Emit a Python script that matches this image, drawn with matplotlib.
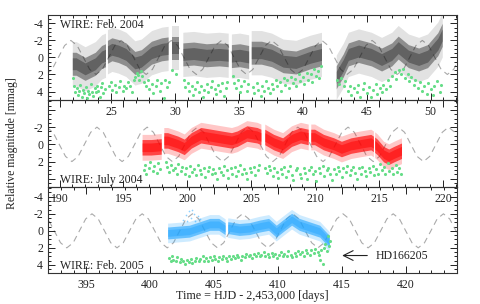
import numpy as np
import matplotlib
matplotlib.use('Agg')
import matplotlib.pyplot as plt
from matplotlib.ticker import MultipleLocator

plt.rcParams['font.family'] = ['Liberation Serif', 'DejaVu Serif']
plt.rcParams['axes.unicode_minus'] = False

nan = np.nan

# ---- dashed reference wave, read at 1/8-period steps ----
wave_cycle = [2, 1.4, 0, -1.4, -2, -1.4, 0, 1.4]
wave1_x = [19.89, 20.38, 20.87, 21.36, 21.85, 22.34, 22.83, 23.32, 23.82, 24.31, 24.80, 25.29,
           25.78, 26.27, 26.76, 27.25, 27.74, 28.23, 28.72, 29.21, 29.71, 30.20, 30.69, 31.18,
           31.67, 32.16, 32.65, 33.14, 33.64, 34.13, 34.62, 35.11, 35.60, 36.09, 36.58, 37.07,
           37.56, 38.05, 38.55, 39.04, 39.53, 40.02, 40.51, 41.00, 41.49, 41.98, 42.47, 42.96,
           43.45, 43.95, 44.44, 44.93, 45.42, 45.91, 46.40, 46.89, 47.38, 47.87, 48.36, 48.85,
           49.35, 49.84, 50.33, 50.82, 51.31, 51.80, 52.29]
wave1_y = wave_cycle * 8 + [2, 1.4, 0]
wave2_x = [189.00, 189.49, 189.98, 190.47, 190.97, 191.46, 191.95, 192.44, 192.93, 193.42, 193.91,
           194.40, 194.90, 195.39, 195.88, 196.37, 196.86, 197.35, 197.84, 198.33, 198.83, 199.32,
           199.81, 200.30, 200.79, 201.28, 201.77, 202.26, 202.76, 203.25, 203.74, 204.23, 204.72,
           205.21, 205.70, 206.19, 206.69, 207.18, 207.67, 208.16, 208.65, 209.14, 209.63, 210.12,
           210.62, 211.11, 211.60, 212.09, 212.58, 213.07, 213.56, 214.05, 214.55, 215.04, 215.53,
           216.02, 216.51, 217.00, 217.49, 217.98, 218.48, 218.97, 219.46, 219.95, 220.44, 220.93,
           221.42]
wave2_y = (wave_cycle[4:] + wave_cycle[:4]) * 8 + [-2, -1.4, 0]
wave3_x = [391.51, 392.00, 392.49, 392.98, 393.47, 393.97, 394.46, 394.95, 395.44, 395.93, 396.42,
           396.91, 397.40, 397.89, 398.38, 398.88, 399.37, 399.86, 400.35, 400.84, 401.33, 401.82,
           402.31, 402.80, 403.30, 403.79, 404.28, 404.77, 405.26, 405.75, 406.24, 406.73, 407.22,
           407.71, 408.21, 408.70, 409.19, 409.68, 410.17, 410.66, 411.15, 411.64, 412.13, 412.63,
           413.12, 413.61, 414.10, 414.59, 415.08, 415.57, 416.06, 416.55, 417.05, 417.54, 418.03,
           418.52, 419.01, 419.50, 419.99, 420.48, 420.97, 421.46, 421.96, 422.45, 422.94, 423.43,
           423.92, 424.41]
wave3_y = (wave_cycle[4:] + wave_cycle[:4]) * 8 + [-2, -1.4, 0, 1.4]

# ---- star light curves: running centre of the dense cloud (nan = data gap) ----
star1_x = [22.0, 22.3, 23.0, 23.8, 24.3, 24.6, nan,
           24.75, 25.1, 25.6, 26.2, 26.9, 27.4, 28.2, 29.0, 29.5, nan,
           29.75, 30.3, nan,
           30.65, 31.5, 32.5, 33.5, 34.2, nan,
           34.45, 35.1, 35.8, nan,
           36.0, 36.8, 37.6, 38.5, 39.5, 40.6, 41.5, nan,
           42.65, 42.8, 43.2, 43.6, 44.4, 45.4, 46.2, 47.0, 47.5, 48.3, 49.1, 49.8, 50.6, 50.95]
star1_y = [0.8, 0.8, 1.4, 0.8, 0.0, -0.2, nan,
           -0.6, -0.9, -0.7, -0.3, 0.7, 0.5, -0.5, -0.9, -1.0, nan,
           -1.1, -1.1, nan,
           -0.3, -0.4, -0.2, -0.3, -0.2, nan,
           -0.1, -0.2, 0.0, nan,
           -0.5, -0.5, -0.2, 0.5, 0.65, 0.05, -0.3, nan,
           2.4, 2.0, 1.0, -0.3, -0.7, -0.3, 0.3, -0.3, -1.1, -0.1, 0.3, -0.1, -1.5, -2.6]
star2_x = [196.5, 197.2, 198.0, nan,
           198.2, 198.5, 199.3, 199.8, 200.35, 201.1, 201.9, 202.7, 203.5, 203.95, 204.7, 205.5,
           205.8, nan,
           206.1, 206.8, 207.5, 208.2, 208.9, 209.5, nan,
           209.7, 210.0, 210.7, 211.5, 212.1, 212.85, 213.6, 214.4, 214.6, nan,
           214.7, 214.9, 215.4, 215.8, 216.2, 216.8]
star2_y = [0.4, 0.4, 0.3, nan,
           -0.4, -0.4, 0.0, 0.35, -0.4, -1.0, -0.8, -0.6, -0.4, -0.6, -1.2, -1.0, -0.8, nan,
           -0.8, -0.2, 0.2, -0.6, -1.0, -0.8, nan,
           -0.8, -0.8, -0.2, 0.2, 0.6, 0.2, 0.0, -0.2, 0.0, nan,
           0.1, 0.35, 1.2, 1.5, 1.2, 0.8]
star3_x = [401.4, 401.5, 402.3, 403.1, 403.9, 404.7, 405.4, 405.9, nan,
           406.1, 406.2, 407.0, 407.8, 408.6, 409.3, 409.9, 410.4, 411.1, 411.7, 412.5, 413.3,
           413.8, 414.05]
star3_y = [0.3, 0.3, 0.2, 0.1, -0.3, -0.7, -0.7, -0.2, nan,
           -0.3, -0.3, -0.1, -0.2, -0.5, -0.7, 0.1, -0.5, -1.3, -0.7, -0.3, 0.1, 0.9, 1.3]
star3_out_x = [402.6, 402.8, 403.0, 403.2, 403.4, 403.5, 403.7, 403.9, 403.3, 402.9]
star3_out_y = [-1.3, -1.8, -2.3, -1.5, -2.0, -1.2, -1.7, -1.4, -2.5, -1.1]

# ---- comparison star (green points) ----
comp1_x = [22.0, 22.1, 22.2, 22.3, 22.4, 22.5, 22.6, 22.7, 22.8, 22.9, 23.0, 23.1, 23.2, 23.3,
           23.4, 23.5, 23.6, 23.7, 23.8, 23.9, 24.0, 24.1, 24.2, 24.3, 24.4, 24.5,
           24.8, 25.0, 25.1, 25.3, 25.4, 25.6, 25.7, 25.9, 26.0, 26.2, 26.3, 26.5, 26.6, 26.8,
           26.9, 27.0, 27.1, 27.2, 27.3, 27.4, 27.6, 27.7, 27.9, 28.0, 28.2, 28.3, 28.5, 28.6,
           28.8, 28.9, 29.1, 29.2, 29.4, 29.5, 29.8, 30.1,
           30.7, 30.8, 31.0, 31.1, 31.3, 31.4, 31.6, 31.7, 31.9, 32.0, 32.2, 32.3, 32.5, 32.6,
           32.8, 32.9, 33.1, 33.2, 33.4, 33.5, 33.7, 33.8, 34.0, 34.1,
           34.5, 34.6, 34.8, 34.9, 35.1, 35.2, 35.4, 35.6, 35.7,
           36.1, 36.2, 36.4, 36.5, 36.7, 36.8, 37.0, 37.1, 37.3, 37.4, 37.6, 37.7, 37.9, 38.0,
           38.2, 38.3, 38.5, 38.6, 38.8, 38.9, 39.1, 39.2, 39.4, 39.5, 39.7, 39.8, 40.0, 40.1,
           40.3, 40.4, 40.6, 40.7, 40.9, 41.0, 41.2, 41.3, 41.4,
           42.7, 42.8, 43.0, 43.2, 43.3, 43.5, 43.7, 43.8, 44.0, 44.2, 44.3, 44.5, 44.7, 44.8,
           45.0, 45.2, 45.3, 45.5, 45.7, 45.8, 46.0, 46.2, 46.3, 46.5, 46.7, 46.8, 47.0, 47.2,
           47.3, 47.5, 47.7, 47.8, 48.0, 48.2, 48.3, 48.5, 48.7, 48.8, 49.0, 49.2, 49.3, 49.5,
           49.7, 49.8, 50.0, 50.2, 50.3, 50.5, 50.7, 50.8]
comp1_y = [2.4, 3.3, 4.0, 3.6, 4.4, 3.9, 3.2, 4.6, 3.8, 4.2, 3.5, 4.8, 3.9, 4.3,
           3.1, 4.0, 4.5, 3.6, 4.1, 3.3, 3.9, 4.6, 3.5, 3.0, 4.2, 3.7,
           3.4, 2.9, 3.8, 3.2, 4.1, 3.5, 2.8, 3.9, 3.3, 3.6, 2.9, 3.4, 4.0, 2.7,
           2.3, 1.8, 2.1, 2.6, 1.6, 2.2, 2.9, 3.4, 2.6, 3.7, 3.1, 4.2, 3.3, 2.7,
           3.9, 3.0, 4.8, 2.6, 3.5, 2.9, 1.5, 2.0,
           2.7, 3.5, 3.0, 3.9, 3.3, 4.4, 3.7, 2.9, 4.1, 3.4, 4.6, 3.8, 3.1, 4.0,
           3.5, 2.8, 3.7, 4.3, 3.2, 3.9, 3.0, 4.5, 3.6, 2.9,
           2.2, 3.0, 3.6, 2.6, 4.1, 3.3, 2.8, 3.9, 3.1,
           3.5, 4.2, 3.0, 3.8, 4.5, 3.3, 3.9, 2.8, 3.6, 4.2, 3.1, 3.7, 2.6, 3.4,
           2.9, 3.9, 2.4, 3.2, 2.7, 3.6, 2.3, 3.0, 2.5, 3.3, 2.0, 2.8, 2.3, 3.1,
           1.8, 2.6, 1.9, 2.9, 1.4, 2.2, 1.6, 2.4, 1.0,
           2.6, 3.1, 2.4, 3.4, 2.8, 3.9, 3.3, 4.4, 3.6, 4.1, 3.2, 4.6, 3.7, 3.0,
           4.2, 3.5, 4.7, 3.8, 3.1, 4.3, 3.6, 4.0, 3.2, 3.7, 2.6, 3.3, 2.2, 1.7,
           2.5, 1.5, 2.0, 1.3, 2.4, 1.9, 2.8, 2.3, 3.2, 2.6, 3.6, 2.9, 3.9, 3.3,
           4.3, 3.0, 3.7, 4.4, 3.4, 2.8, 4.0, 3.2]
comp2_x = [196.6, 196.7, 196.8, 197.0, 197.1, 197.3, 197.4, 197.6, 197.7, 197.9,
           198.3, 198.4, 198.6, 198.7, 198.9, 199.0, 199.2, 199.3, 199.5, 199.6, 199.8, 199.9,
           200.1, 200.2, 200.4, 200.5, 200.7, 200.8, 201.0, 201.1, 201.3, 201.4, 201.6, 201.7,
           201.9, 202.0, 202.2, 202.3, 202.5, 202.6, 202.8, 202.9, 203.1, 203.2, 203.4, 203.5,
           203.7, 203.8, 204.0, 204.1, 204.3, 204.4, 204.6, 204.7, 204.9, 205.0, 205.2, 205.3,
           205.5, 205.6, 206.1, 206.2, 206.4, 206.5, 206.7, 206.8, 207.0, 207.1, 207.3, 207.4,
           207.6, 207.7, 207.9, 208.0, 208.2, 208.3, 208.5, 208.6, 208.8, 208.9, 209.1, 209.2,
           209.4, 209.5, 209.7, 209.8, 210.0, 210.1, 210.3, 210.4, 210.6, 210.7, 210.9, 211.0,
           211.2, 211.3, 211.5, 211.6, 211.8, 211.9, 212.1, 212.2, 212.4, 212.5, 212.7, 212.8,
           213.0, 213.1, 213.3, 213.4, 213.6, 213.7, 213.9, 214.0, 214.2, 214.3, 214.5, 214.6,
           214.8, 214.9, 215.1, 215.2, 215.4, 215.5, 215.7, 215.8, 216.0, 216.1, 216.3, 216.4,
           216.6, 216.7]
comp2_y = [3.0, 2.4, 3.4, 2.7, 2.1, 3.1, 2.5, 3.3, 2.2, 2.9,
           2.0, 2.6, 3.2, 2.4, 3.0, 2.7, 3.5, 2.3, 3.1, 2.6, 3.4, 2.8,
           3.7, 2.5, 3.2, 2.9, 3.6, 2.4, 3.0, 3.4, 2.7, 3.8, 3.1, 2.6,
           3.5, 2.9, 3.3, 4.0, 2.7, 3.2, 3.6, 2.5, 3.0, 3.9, 2.8, 3.4,
           2.6, 3.7, 3.1, 2.4, 3.5, 2.9, 3.3, 4.0, 2.7, 3.2, 2.6, 3.6,
           3.0, 2.4, 2.8, 3.3, 2.5, 3.0, 3.7, 2.7, 3.2, 3.9, 2.9, 3.4,
           2.6, 3.8, 3.1, 2.5, 3.6, 4.1, 3.0, 2.7, 3.4, 3.9, 2.8, 3.3,
           4.0, 3.0, 2.6, 3.5, 3.1, 4.2, 2.8, 3.3, 2.5, 3.7, 3.0, 2.7,
           3.5, 4.1, 2.9, 3.4, 2.6, 3.1, 3.8, 2.7, 3.2, 2.5, 3.6, 3.0,
           2.6, 3.3, 4.0, 2.8, 3.4, 2.6, 3.1, 3.7, 2.7, 3.2, 2.5, 3.6,
           2.9, 3.4, 2.3, 3.0, 2.6, 3.5, 2.2, 3.1, 2.7, 3.4, 2.4, 3.2,
           2.8, 3.5]
comp3_x = [401.5, 401.6, 401.7, 401.8, 402.0, 402.1, 402.3, 402.4, 402.6, 402.7, 402.9, 403.0,
           403.2, 403.3, 403.5, 403.6, 403.8, 403.9, 404.1, 404.2, 404.4, 404.5, 404.7, 404.8,
           405.0, 405.1, 405.3, 405.4, 405.6, 405.7, 405.9, 406.0, 406.2, 406.3, 406.5, 406.6,
           406.8, 406.9, 407.1, 407.2, 407.4, 407.5, 407.7, 407.8, 408.0, 408.1, 408.3, 408.4,
           408.6, 408.7, 408.9, 409.0, 409.2, 409.3, 409.5, 409.6, 409.8, 409.9, 410.1, 410.2,
           410.4, 410.5, 410.7, 410.8, 411.0, 411.1, 411.3, 411.4, 411.6, 411.7, 411.9, 412.0,
           412.2, 412.3, 412.5, 412.6, 412.8, 412.9, 413.1, 413.2, 413.3, 413.4, 413.5, 413.6,
           413.7, 413.8, 413.9, 414.0, 414.05]
comp3_y = [3.2, 3.6, 3.0, 3.4, 3.5, 3.1, 3.7, 3.3, 3.6, 3.9, 3.4, 3.7,
           3.3, 3.8, 3.5, 3.2, 3.6, 3.3, 3.0, 3.5, 3.2, 3.6, 3.1, 3.4,
           3.0, 3.3, 3.5, 3.1, 3.3, 2.9, 3.2, 3.5, 3.0, 3.3, 2.9, 3.2,
           2.8, 3.1, 3.4, 2.9, 3.1, 2.7, 3.0, 2.8, 3.2, 2.7, 2.9, 2.6,
           3.0, 2.8, 2.5, 2.9, 2.7, 3.1, 2.6, 2.9, 2.7, 3.2, 2.8, 2.5,
           3.0, 2.7, 2.9, 2.4, 2.8, 3.1, 2.6, 2.9, 2.4, 2.7, 2.5, 2.9,
           2.3, 2.6, 2.8, 2.3, 2.6, 2.1, 2.5, 2.8, 3.4, 2.2, 3.9, 2.0,
           1.5, 2.4, 0.6, 1.8, 1.2]

# ---- panel setup ----
xlims = [(20.06, 52.06), (189.1, 221.1), (392.0, 424.0)]
ylims = [(5.0, -5.0), (4.95, -5.15), (4.95, -5.15)]
ytick_vals = [-4, -2, 0, 2, 4]
ytick_text = [['-4', '-2', '0', '2', '4'], ['', '-2', '0', '2', ''], ['-4', '-2', '0', '2', '4']]
titles = ['WIRE: Feb. 2004', 'WIRE: July 2004', 'WIRE: Feb. 2005']
title_y = [0.88, 0.08, 0.08]

waves = [(wave1_x, wave1_y), (wave2_x, wave2_y), (wave3_x, wave3_y)]
stars = [(star1_x, star1_y), (star2_x, star2_y), (star3_x, star3_y)]
comps = [(comp1_x, comp1_y), (comp2_x, comp2_y), (comp3_x, comp3_y)]
star_colors = ['#111111', '#ff0000', '#1fa4ff']
# half-widths of the scatter cloud (dense core -> sparse edge) and their opacity
band_w = [(0.7, 1.35, 2.6), (0.5, 0.9, 1.5), (0.4, 0.7, 1.15)]
band_a = [(0.35, 0.4, 0.12), (0.5, 0.65, 0.22), (0.45, 0.6, 0.22)]

fig = plt.figure(figsize=(4.8, 3.04), dpi=100)
boxes = [[0.1, 0.671, 0.852, 0.280], [0.1, 0.385, 0.852, 0.286], [0.1, 0.102, 0.852, 0.283]]
ink = '#222222'

for i, box in enumerate(boxes):
    ax = fig.add_axes(box)
    wx, wy = waves[i]
    ax.plot(wx, wy, color='#aaaaaa', lw=0.8, dashes=(5.5, 4), zorder=1)

    sx = np.array(stars[i][0], dtype=float)
    sy = np.array(stars[i][1], dtype=float)
    col = star_colors[i]
    for w, a in zip(band_w[i], band_a[i]):
        ax.fill_between(sx, sy - w, sy + w, color=col, alpha=a, lw=0, zorder=2)
    if i == 2:
        ax.scatter(star3_out_x, star3_out_y, s=1.5, color=col, alpha=0.5, lw=0, zorder=3)

    cx, cy = comps[i]
    ax.scatter(cx, cy, s=5, color='#66dd88', lw=0, zorder=4)

    ax.set_xlim(*xlims[i])
    ax.set_ylim(*ylims[i])
    ax.xaxis.set_major_locator(MultipleLocator(5))
    ax.xaxis.set_minor_locator(MultipleLocator(1))
    ax.set_yticks(ytick_vals)
    ax.set_yticklabels(ytick_text[i])
    ax.yaxis.set_minor_locator(MultipleLocator(0.5))
    ax.tick_params(which='both', direction='in', top=True, right=True, labelsize=8.5,
                   width=0.7, colors=ink, labelcolor=ink)
    ax.tick_params(which='major', length=5)
    ax.tick_params(which='minor', length=2.5)
    ax.tick_params(axis='x', pad=4.5)
    for sp in ax.spines.values():
        sp.set_linewidth(0.8)
        sp.set_color('#333333')
    ax.patch.set_alpha(0)
    ax.text(0.03, title_y[i], titles[i], transform=ax.transAxes, fontsize=8.5,
            va='center', ha='left', color=ink)

    if i == 2:
        ax.annotate('', xy=(414.8, 2.9), xytext=(417.2, 2.9),
                    arrowprops=dict(arrowstyle='->,head_length=0.7,head_width=0.35',
                                    lw=0.8, color=ink))
        ax.text(417.6, 2.9, 'HD166205', fontsize=8.5, va='center', ha='left', color=ink)

fig.text(0.025, 0.528, 'Relative magnitude [mmag]', rotation=90, fontsize=8.5,
         va='center', ha='center', color=ink)
fig.text(0.526, 0.026, 'Time = HJD - 2,453,000 [days]', fontsize=8.7,
         va='center', ha='center', color=ink)

fig.savefig('out.png', dpi=100)
